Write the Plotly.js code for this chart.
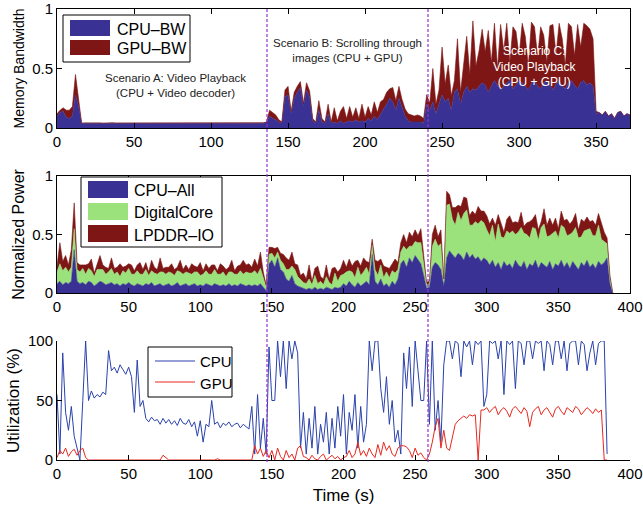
<!DOCTYPE html>
<html><head><meta charset="utf-8">
<script src="https://cdn.plot.ly/plotly-3.0.1.min.js"></script>
<style>html,body{margin:0;padding:0;background:#fff}#plot{width:643px;height:508px}</style>
</head><body><div id="plot"></div>
<script>
// ---------- DATA ----------
// Top panel: memory bandwidth, sampled every 2 s from t = 0
const bwStep = 2;
const cpuBw = [0.10,0.13,0.14,0.09,0.08,0.10,0.28,0.18,0.04,
0.04,0.041,0.039,0.04,0.042,0.04,0.038,0.04,0.041,0.04,
0.039,0.04,0.042,0.04,0.04,0.038,0.041,0.04,0.04,0.039,
0.04,0.042,0.04,0.041,0.038,0.04,0.04,0.039,0.041,0.04,
0.04,0.038,0.04,0.042,0.04,0.039,0.04,0.041,0.04,0.038,
0.04,0.04,0.042,0.039,0.04,0.041,0.04,0.038,0.04,0.04,
0.041,0.039,0.04,0.042,0.04,0.04,0.038,0.041,0.04,0.045,
0.10,0.08,0.07,0.05,0.04,0.26,0.28,0.12,0.25,0.30,0.34,0.18,0.32,0.26,0.06,0.04,0.15,0.05,0.04,0.12,0.04,
0.05,0.04,0.06,0.04,0.05,0.06,0.05,0.07,0.05,0.06,0.05,0.08,0.06,0.10,0.07,0.12,0.16,0.20,0.25,0.22,
0.15,0.25,0.18,0.10,0.06,0.05,0.05,0.05,0.05,0.04,0.20,0.15,0.22,0.12,0.20,0.28,0.22,0.25,0.15,0.30,
0.33,0.20,0.30,0.35,0.30,0.33,0.32,0.35,0.38,0.36,0.30,0.35,0.40,0.36,0.32,0.35,0.38,0.40,0.33,0.36,
0.40,0.38,0.35,0.32,0.37,0.40,0.35,0.33,0.38,0.40,0.36,0.32,0.37,0.40,0.35,0.33,0.38,0.40,0.36,0.33,
0.38,0.40,0.36,0.38,0.35,0.12,0.13,0.11,0.14,0.10,0.12,0.08,0.13,0.14,0.10,0.12,0.11];
const gpuBw = [0.02,0.02,0.03,0.06,0.07,0.08,0.17,0.05,0.0,
0.003,0.003,0.002,0.003,0.004,0.003,0.002,0.003,0.003,0.004,
0.003,0.002,0.003,0.003,0.004,0.003,0.002,0.003,0.003,0.003,
0.004,0.003,0.002,0.003,0.003,0.004,0.003,0.002,0.003,0.003,
0.003,0.004,0.003,0.002,0.003,0.003,0.004,0.003,0.002,0.003,
0.003,0.003,0.004,0.003,0.002,0.003,0.003,0.004,0.003,0.002,
0.003,0.003,0.003,0.004,0.003,0.002,0.003,0.003,0.004,0.005,
0.05,0.05,0.04,0.02,0.01,0.06,0.07,0.02,0.05,0.05,0.05,0.03,0.06,0.05,0.02,0.01,0.08,0.03,0.01,0.08,0.01,
0.12,0.02,0.08,0.14,0.03,0.12,0.04,0.10,0.03,0.14,0.04,0.10,0.05,0.12,0.06,0.10,0.08,0.10,0.08,0.12,
0.08,0.10,0.06,0.06,0.06,0.06,0.05,0.06,0.05,0.04,0.08,0.06,0.28,0.08,0.12,0.40,0.15,0.28,0.12,0.10,
0.42,0.10,0.25,0.42,0.15,0.57,0.20,0.30,0.45,0.28,0.52,0.20,0.48,0.14,0.55,0.30,0.50,0.15,0.52,0.45,
0.20,0.50,0.42,0.20,0.52,0.45,0.25,0.52,0.40,0.15,0.50,0.55,0.25,0.48,0.40,0.20,0.50,0.45,0.25,0.54,
0.30,0.48,0.50,0.45,0.40,0.02,0,0,0,0,0,0,0,0,0,0,0];

// Middle panel: normalized power, sampled every 2 s from t = 0
const pwStep = 2;
const cpuAll = [0.08,0.10,0.07,0.09,0.08,0.10,0.37,0.10,
0.08,0.09,0.07,0.10,0.09,0.06,0.08,0.10,0.09,0.07,
0.08,0.09,0.07,0.08,0.06,0.08,0.07,0.09,0.07,0.06,
0.08,0.07,0.06,0.08,0.07,0.09,0.06,0.07,0.08,0.06,
0.07,0.08,0.06,0.07,0.09,0.06,0.07,0.08,0.06,0.07,
0.08,0.06,0.07,0.06,0.08,0.07,0.06,0.08,0.07,0.06,
0.07,0.06,0.08,0.06,0.07,0.06,0.08,0.07,0.06,0.07,
0.06,0.07,0.06,0.08,0.05,0.02,
0.25,0.28,0.22,0.30,0.20,0.18,0.12,
0.10,0.15,0.08,0.06,0.05,0.04,
0.03,0.04,0.03,0.05,0.03,0.04,0.03,0.05,0.04,0.03,0.05,0.04,
0.05,0.08,0.06,0.10,0.07,0.05,0.09,0.06,0.08,0.10,0.07,
0.33,0.10,0.07,0.12,0.06,0.08,0.05,0.10,0.07,
0.12,0.25,0.28,0.22,0.30,0.26,0.32,0.28,0.25,0.15,0.04,
0.05,0.22,0.26,0.24,0.20,0.06,
0.30,0.36,0.33,0.30,0.34,0.32,0.28,0.35,0.30,0.33,0.29,0.31,0.27,0.30,0.28,
0.24,0.28,0.22,0.26,0.20,0.27,0.23,0.25,0.21,0.28,
0.24,0.22,0.27,0.20,0.25,0.23,0.28,0.21,0.26,0.24,
0.22,0.27,0.20,0.25,0.23,0.28,0.22,0.26,0.21,0.27,
0.24,0.20,0.26,0.23,0.28,0.22,0.25,0.21,0.27,0.24,
0.26,0.30,0.08,0];
const digitalCore = [0.10,0.15,0.12,0.13,0.10,0.12,0.18,0.10,
0.10,0.12,0.09,0.11,0.10,0.08,0.12,0.10,0.11,0.09,
0.10,0.12,0.09,0.10,0.08,0.11,0.10,0.12,0.09,0.10,
0.11,0.09,0.10,0.12,0.08,0.10,0.11,0.09,0.10,0.12,
0.09,0.10,0.11,0.08,0.10,0.12,0.09,0.10,0.11,0.09,
0.10,0.12,0.08,0.10,0.11,0.09,0.10,0.12,0.09,0.10,
0.11,0.08,0.10,0.12,0.09,0.10,0.11,0.09,0.12,0.10,
0.11,0.12,0.10,0.13,0.08,0.03,
0.08,0.06,0.08,0.05,0.08,0.07,0.08,
0.10,0.08,0.12,0.08,0.06,0.05,
0.05,0.08,0.04,0.10,0.05,0.06,0.04,0.09,0.05,0.04,0.12,0.06,
0.10,0.08,0.12,0.09,0.11,0.08,0.13,0.09,0.10,0.12,0.09,
0.08,0.10,0.08,0.12,0.07,0.10,0.08,0.09,0.10,
0.08,0.10,0.12,0.15,0.10,0.14,0.12,0.15,0.18,0.10,0.03,
0.03,0.18,0.20,0.16,0.22,0.04,
0.45,0.40,0.30,0.28,0.35,0.30,0.40,0.36,0.28,0.25,0.32,0.28,0.35,0.30,0.26,
0.25,0.30,0.22,0.33,0.28,0.20,0.30,0.26,0.32,0.22,
0.28,0.34,0.24,0.30,0.22,0.33,0.27,0.24,0.30,0.35,
0.26,0.22,0.31,0.28,0.24,0.30,0.34,0.23,0.29,0.25,
0.32,0.27,0.22,0.30,0.26,0.33,0.24,0.28,0.31,0.22,
0.18,0.12,0.04,0];
const lpddrIo = [0.05,0.18,0.08,0.10,0.06,0.15,0.22,0.06,
0.06,0.03,0.08,0.04,0.10,0.03,0.05,0.12,0.04,0.06,
0.03,0.09,0.05,0.04,0.11,0.03,0.06,0.04,0.08,0.03,
0.05,0.10,0.04,0.06,0.03,0.09,0.05,0.04,0.12,0.03,
0.06,0.04,0.08,0.05,0.03,0.10,0.04,0.06,0.03,0.09,
0.05,0.04,0.11,0.03,0.06,0.05,0.08,0.04,0.03,0.09,
0.05,0.06,0.04,0.10,0.03,0.07,0.05,0.12,0.06,0.08,
0.05,0.10,0.07,0.14,0.05,0.02,
0.06,0.05,0.08,0.04,0.06,0.08,0.10,
0.08,0.12,0.05,0.10,0.04,0.08,
0.04,0.12,0.03,0.06,0.15,0.04,0.05,0.10,0.03,0.14,0.05,0.08,
0.06,0.12,0.04,0.10,0.05,0.14,0.06,0.08,0.12,0.05,0.10,
0.05,0.08,0.12,0.05,0.10,0.04,0.08,0.06,0.12,
0.06,0.08,0.10,0.06,0.12,0.08,0.10,0.06,0.12,0.05,0.02,
0.02,0.10,0.12,0.08,0.12,0.02,
0.12,0.08,0.10,0.15,0.06,0.12,0.14,0.10,0.08,0.12,0.06,0.15,0.08,0.10,0.12,
0.10,0.06,0.14,0.08,0.12,0.05,0.10,0.15,0.07,0.11,
0.08,0.13,0.06,0.10,0.14,0.07,0.12,0.09,0.05,0.13,
0.10,0.15,0.07,0.11,0.08,0.12,0.06,0.14,0.09,0.10,
0.12,0.07,0.15,0.08,0.11,0.06,0.13,0.09,0.10,0.14,
0.08,0.05,0.03,0];

// Bottom panel: utilization (%), sampled every 2 s from t = 0
const utStep = 2;
const cpuUtil = [55,5,90,40,25,45,20,10,0,50,100,
50,58,52,55,53,57,55,
92,75,78,73,80,76,72,78,70,
40,84,45,50,
35,32,36,33,34,30,35,31,34,30,33,29,35,31,30,34,28,32,20,33,15,30,28,50,30,32,27,31,29,32,28,30,31,27,30,28,26,
45,5,55,10,35,5,
95,50,50,100,70,100,60,100,85,100,90,
10,40,5,35,10,45,5,30,15,40,5,35,10,45,20,
55,5,40,25,55,10,45,15,30,
100,75,100,100,60,
40,70,30,50,15,25,5,
90,60,95,45,100,75,50,50,100,
30,100,25,50,15,80,100,
100,85,100,98,70,100,95,100,80,100,97,100,45,
55,100,98,100,85,100,55,100,97,100,60,100,98,80,100,100,85,100,98,100,75,100,97,80,100,100,85,100,75,98,100,100,80,100,97,75,90,100,80,98,100,100,5];
const gpuUtil = [2,8,5,10,3,7,9,4,8,10,2,
0,0,0,0,0,0,0,0,0,0,
0,0,0,0,0,0,0,0,0,0,
0,0,0,0,0,0,4,2,0,0,
0,0,0,0,0,0,0,0,0,0,
0,0,0,0,0,1,0,0,0,0,
0,0,0,0,0,0,0,0,
12,5,10,3,8,
2,8,0,10,3,0,8,2,5,0,10,12,3,
2,0,4,1,0,3,5,0,2,4,1,3,0,2,
3,8,2,5,15,4,8,3,10,5,2,13,4,15,8,12,5,3,10,12,
12,11,8,2,10,4,6,2,0,
5,15,28,35,10,25,10,8,20,
30,33,35,37,35,38,37,38,
0,42,
42,44,40,43,45,38,42,44,41,36,
43,45,42,39,44,41,28,40,43,45,
38,42,44,40,36,43,45,41,38,44,
42,40,45,43,38,41,44,42,39,43,
40,42,
0,0];

const bwTicks = [0,50,100,150,200,250,300,350];
const timeTicks = [0,50,100,150,200,250,300,350,400];

// ---------- BUILD ----------
const tBw = cpuBw.map((_, i) => i * bwStep);
const tPw = cpuAll.map((_, i) => i * pwStep);
const tUt = cpuUtil.map((_, i) => i * utStep);

const BLUE = 'rgb(58,49,148)', RED = 'rgb(125,22,20)', GREEN = 'rgb(155,226,125)';
const LBLUE = 'rgb(42,66,172)', LRED = 'rgb(232,40,30)';
const FONT = 'Liberation Sans, Arial, Helvetica, sans-serif';

function area(x, y, color, xa, ya, grp, name) {
  return {type:'scatter', mode:'lines', x, y, name, stackgroup:grp, xaxis:xa, yaxis:ya,
          line:{width:0.6, color, shape:'linear'}, fillcolor:color, showlegend:false, hoverinfo:'skip'};
}
const traces = [
  area(tBw, cpuBw, BLUE, 'x', 'y', 'bw', 'CPU–BW'),
  area(tBw, gpuBw, RED, 'x', 'y', 'bw', 'GPU–BW'),
  area(tPw, cpuAll, BLUE, 'x2', 'y2', 'pw', 'CPU–All'),
  area(tPw, digitalCore, GREEN, 'x2', 'y2', 'pw', 'DigitalCore'),
  area(tPw, lpddrIo, RED, 'x2', 'y2', 'pw', 'LPDDR–IO'),
  {type:'scatter', mode:'lines', x:tUt, y:cpuUtil, name:'CPU', xaxis:'x3', yaxis:'y3',
   line:{width:1, color:LBLUE}, showlegend:false, hoverinfo:'skip'},
  {type:'scatter', mode:'lines', x:tUt, y:gpuUtil, name:'GPU', xaxis:'x3', yaxis:'y3',
   line:{width:1, color:LRED}, showlegend:false, hoverinfo:'skip'}
];

const W = 643, H = 508;
const X = px => px / W, Y = py => 1 - py / H;
const XD = [X(57), X(630)];

const axBase = {showline:true, linecolor:'black', linewidth:1, ticks:'inside', ticklen:5,
  tickcolor:'black', tickwidth:1, showgrid:false, zeroline:false,
  tickfont:{family:FONT, size:15, color:'black'}};

const layout = {
  width:W, height:H, margin:{l:0,r:0,t:0,b:0}, paper_bgcolor:'white', plot_bgcolor:'white',
  showlegend:false, font:{family:FONT, color:'black'},
  xaxis: Object.assign({}, axBase, {domain:XD, anchor:'y', range:[0,372], tickvals:bwTicks, mirror:'ticks'}),
  yaxis: Object.assign({}, axBase, {domain:[Y(128),Y(9)], anchor:'x', range:[0,1], tickvals:[0,0.5,1], ticktext:['0','0.5','1'], mirror:'ticks',
    title:{text:'Memory Bandwidth', font:{family:FONT, size:14}, standoff:4}}),
  xaxis2: Object.assign({}, axBase, {domain:XD, anchor:'y2', range:[0,400], tickvals:timeTicks, mirror:'ticks'}),
  yaxis2: Object.assign({}, axBase, {domain:[Y(293),Y(176)], anchor:'x2', range:[0,1], tickvals:[0,0.5,1], ticktext:['0','0.5','1'], mirror:'ticks',
    title:{text:'Normalized Power', font:{family:FONT, size:16}, standoff:3}}),
  xaxis3: Object.assign({}, axBase, {domain:XD, anchor:'y3', range:[0,400], tickvals:timeTicks,
    title:{text:'Time (s)', font:{family:FONT, size:17}, standoff:8}}),
  yaxis3: Object.assign({}, axBase, {domain:[Y(460),Y(341)], anchor:'x3', range:[0,100], tickvals:[0,50,100],
    title:{text:'Utilization (%)', font:{family:FONT, size:17}, standoff:4}}),
  shapes: [
    {type:'line', xref:'paper', yref:'paper', x0:X(267), x1:X(267), y0:Y(462), y1:Y(9), line:{color:'rgb(150,50,210)', width:1.2, dash:'3px,2px'}},
    {type:'line', xref:'paper', yref:'paper', x0:X(428), x1:X(428), y0:Y(462), y1:Y(9), line:{color:'rgb(150,50,210)', width:1.2, dash:'3px,2px'}},
    // legend 1
    {type:'rect', xref:'paper', yref:'paper', x0:X(63), x1:X(190), y0:Y(62), y1:Y(15), line:{color:'black', width:1}, fillcolor:'white'},
    {type:'rect', xref:'paper', yref:'paper', x0:X(70), x1:X(110), y0:Y(36), y1:Y(20), line:{width:0}, fillcolor:BLUE},
    {type:'rect', xref:'paper', yref:'paper', x0:X(70), x1:X(110), y0:Y(55), y1:Y(40), line:{width:0}, fillcolor:RED},
    // legend 2
    {type:'rect', xref:'paper', yref:'paper', x0:X(81), x1:X(222), y0:Y(247), y1:Y(177), line:{color:'black', width:1}, fillcolor:'white'},
    {type:'rect', xref:'paper', yref:'paper', x0:X(88), x1:X(128), y0:Y(198), y1:Y(181), line:{width:0}, fillcolor:BLUE},
    {type:'rect', xref:'paper', yref:'paper', x0:X(88), x1:X(128), y0:Y(220), y1:Y(203), line:{width:0}, fillcolor:GREEN},
    {type:'rect', xref:'paper', yref:'paper', x0:X(88), x1:X(128), y0:Y(242), y1:Y(225), line:{width:0}, fillcolor:RED},
    // legend 3
    {type:'rect', xref:'paper', yref:'paper', x0:X(148), x1:X(232), y0:Y(397), y1:Y(347), line:{color:'black', width:1}, fillcolor:'white'},
    {type:'line', xref:'paper', yref:'paper', x0:X(155), x1:X(195), y0:Y(361), y1:Y(361), line:{color:LBLUE, width:1}},
    {type:'line', xref:'paper', yref:'paper', x0:X(155), x1:X(195), y0:Y(382), y1:Y(382), line:{color:LRED, width:1}}
  ],
  annotations: [
    {text:'Scenario A: Video Playback<br>(CPU + Video decoder)', xref:'paper', yref:'paper', x:X(175), y:Y(85), xanchor:'center', yanchor:'middle', showarrow:false, font:{family:FONT, size:11.5, color:'#222'}},
    {text:'Scenario B: Scrolling through<br>images (CPU + GPU)', xref:'paper', yref:'paper', x:X(347), y:Y(50), xanchor:'center', yanchor:'middle', showarrow:false, font:{family:FONT, size:11.5, color:'#222'}},
    {text:'Scenario C:<br>Video Playback<br>(CPU + GPU)', xref:'paper', yref:'paper', x:X(535), y:Y(66), xanchor:'center', yanchor:'middle', showarrow:false, font:{family:FONT, size:12, color:'white'}},
    {text:'CPU–BW', xref:'paper', yref:'paper', x:X(115), y:Y(29), xanchor:'left', yanchor:'middle', showarrow:false, font:{family:FONT, size:16, color:'black'}},
    {text:'GPU–BW', xref:'paper', yref:'paper', x:X(115), y:Y(48), xanchor:'left', yanchor:'middle', showarrow:false, font:{family:FONT, size:16, color:'black'}},
    {text:'CPU–All', xref:'paper', yref:'paper', x:X(132), y:Y(190), xanchor:'left', yanchor:'middle', showarrow:false, font:{family:FONT, size:16, color:'black'}},
    {text:'DigitalCore', xref:'paper', yref:'paper', x:X(132), y:Y(213), xanchor:'left', yanchor:'middle', showarrow:false, font:{family:FONT, size:16, color:'black'}},
    {text:'LPDDR–IO', xref:'paper', yref:'paper', x:X(132), y:Y(235), xanchor:'left', yanchor:'middle', showarrow:false, font:{family:FONT, size:16, color:'black'}},
    {text:'CPU', xref:'paper', yref:'paper', x:X(198), y:Y(361), xanchor:'left', yanchor:'middle', showarrow:false, font:{family:FONT, size:15, color:'black'}},
    {text:'GPU', xref:'paper', yref:'paper', x:X(198), y:Y(383), xanchor:'left', yanchor:'middle', showarrow:false, font:{family:FONT, size:15, color:'black'}}
  ]
};

Plotly.newPlot('plot', traces, layout, {staticPlot:true, displayModeBar:false});
</script></body></html>
